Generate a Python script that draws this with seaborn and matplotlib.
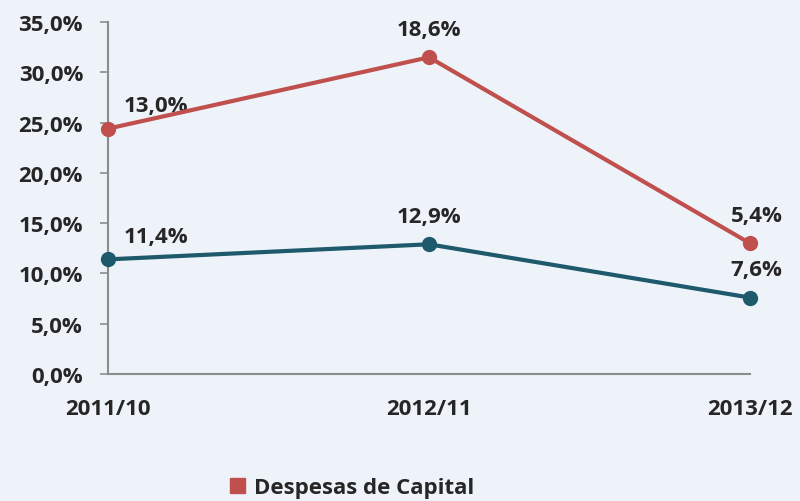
import pandas as pd
import seaborn as sns
import matplotlib.pyplot as plt
import matplotlib.patches as patches

# --------------------------- Data --------------------------- #
periods = ["2011/10", "2012/11", "2013/12"]
capital = [13.0, 18.6, 5.4]        # Despesas de Capital (stacked on top)
other = [11.4, 12.9, 7.6]          # lower series
series_names = ["Outras", "Despesas de Capital"]
y_ticks = [0, 5, 10, 15, 20, 25, 30, 35]

# stacked line chart: top series drawn at cumulative value
stacked = [o + c for o, c in zip(other, capital)]
df = pd.DataFrame({
    "periodo": list(range(len(periods))) * 2,
    "valor": other + stacked,
    "rotulo": other + capital,
    "serie": [series_names[0]] * 3 + [series_names[1]] * 3,
})

# --------------------------- Style --------------------------- #
bg = "#EEF3FA"
fs = 16
sns.set_style("ticks", {"axes.facecolor": bg, "figure.facecolor": bg})
plt.rcParams["font.family"] = ["Open Sans", "DejaVu Sans"]
plt.rcParams["font.weight"] = "bold"
colors = {series_names[0]: "#1E5A6B", series_names[1]: "#C0504D"}

fig = plt.figure(figsize=(8, 5.02), dpi=100)
ax = fig.add_axes([0.135, 0.253, 0.8025, 0.701])

sns.lineplot(data=df, x="periodo", y="valor", hue="serie", palette=colors,
             marker="o", markersize=11, linewidth=3, markeredgewidth=0,
             legend=False, ax=ax)
for line in ax.lines:
    line.set_clip_on(False)
    line.set_zorder(5)

ax.set_xlim(0, 2)
ax.set_ylim(0, 35)
ax.set_xlabel("")
ax.set_ylabel("")
ax.set_yticks(y_ticks)
ax.set_yticklabels([f"{v:.1f}%".replace(".", ",") for v in y_ticks],
                   fontsize=fs, fontweight="bold", color="#262626")
ax.set_xticks(range(len(periods)))
ax.set_xticklabels(periods, fontsize=fs, fontweight="bold", color="#262626")
ax.tick_params(axis="y", length=6, width=1.2, color="#8C8C8C", pad=12)
ax.tick_params(axis="x", length=0, pad=17)
for side in ["top", "right"]:
    ax.spines[side].set_visible(False)
for side in ["left", "bottom"]:
    ax.spines[side].set_color("#8C8C8C")
    ax.spines[side].set_linewidth(1.5)

# --------------------------- Labels --------------------------- #
offsets = [(0.05, 2.3, "left"), (0.0, 2.8, "center"), (0.02, 2.8, "center")]
for _, row in df.iterrows():
    dx, dy, ha = offsets[row["periodo"]]
    ax.text(row["periodo"] + dx, row["valor"] + dy,
            f"{row['rotulo']:.1f}%".replace(".", ","),
            ha=ha, va="center", fontsize=fs, fontweight="bold",
            color="#262626", clip_on=False)

# --------------------------- Legend --------------------------- #
handle = patches.Patch(color=colors[series_names[1]], label=series_names[1])
fig.legend(handles=[handle], loc="center left", bbox_to_anchor=(0.262, 0.026),
           frameon=False, handlelength=0.7, handleheight=0.7,
           handletextpad=0.4, prop={"weight": "bold", "size": fs})
for t in fig.legends[0].get_texts():
    t.set_color("#262626")

plt.savefig("out.png", dpi=100, facecolor=bg)
